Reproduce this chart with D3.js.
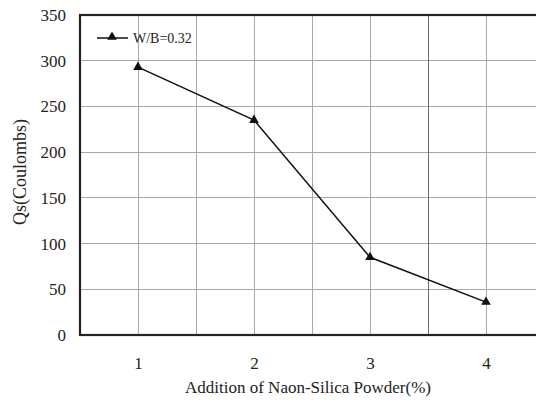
<!DOCTYPE html>
<html><head><meta charset="utf-8">
<script src="https://cdn.jsdelivr.net/npm/d3@7"></script>
<style>body{margin:0;background:#fff}svg{display:block}</style>
</head><body>
<svg id="c" width="536" height="403"></svg>
<script>
const xValues = [1, 2, 3, 4];
const qsValues = [293, 235, 85, 36];
const seriesName = "W/B=0.32";
const yTicks = [0, 50, 100, 150, 200, 250, 300, 350];
const xTicks = [1, 2, 3, 4];
const xGrid = [1, 1.5, 2, 2.5, 3, 3.5, 4];

const svg = d3.select("#c");
const L = 80, T = 15, B = 335, R = 544;
const x = d3.scaleLinear().domain([0.5, 4.5]).range([L, R]);
const y = d3.scaleLinear().domain([0, 350]).range([B, T]);
const font = "'Liberation Serif','Times New Roman',serif";

svg.append("rect").attr("width", 536).attr("height", 403).attr("fill", "#fff");

// grid
svg.append("g").selectAll("line").data(yTicks.slice(1, -1)).join("line")
  .attr("x1", L).attr("x2", R).attr("y1", d => y(d)).attr("y2", d => y(d))
  .attr("stroke", "#a8a8a8").attr("stroke-width", 1).attr("shape-rendering", "crispEdges");
svg.append("g").selectAll("line").data(xGrid).join("line")
  .attr("y1", T).attr("y2", B).attr("x1", d => x(d)).attr("x2", d => x(d))
  .attr("stroke", d => d === 3.5 ? "#6a6a6a" : "#a8a8a8").attr("stroke-width", 1).attr("shape-rendering", "crispEdges");

// border
svg.append("rect").attr("x", L).attr("y", T).attr("width", R - L).attr("height", B - T)
  .attr("fill", "none").attr("stroke", "#222").attr("stroke-width", 2.2);

// axes labels
const yAxis = d3.axisLeft(y).tickValues(yTicks).tickSize(0).tickPadding(14);
const gy = svg.append("g").attr("transform", `translate(${L},0)`).call(yAxis);
gy.select(".domain").remove();
gy.selectAll("text").attr("font-family", font).attr("font-size", 17).attr("fill", "#222");

const xAxis = d3.axisBottom(x).tickValues(xTicks).tickSize(0).tickPadding(22).tickFormat(d3.format("d"));
const gx = svg.append("g").attr("transform", `translate(0,${B})`).call(xAxis);
gx.select(".domain").remove();
gx.selectAll("text").attr("font-family", font).attr("font-size", 17).attr("fill", "#222");

// axis titles
svg.append("text").attr("x", 308).attr("y", 393).attr("text-anchor", "middle")
  .attr("font-family", font).attr("font-size", 17).attr("fill", "#222")
  .text("Addition of Naon-Silica Powder(%)");
svg.append("text").attr("transform", "translate(26,172) rotate(-90)").attr("text-anchor", "middle")
  .attr("font-family", font).attr("font-size", 18).attr("fill", "#222")
  .text("Qs(Coulombs)");

// series
const data = xValues.map((v, i) => ({x: v, y: qsValues[i]}));
svg.append("path").datum(data)
  .attr("d", d3.line().x(d => x(d.x)).y(d => y(d.y)))
  .attr("fill", "none").attr("stroke", "#111").attr("stroke-width", 1.5);
const tri = d3.symbol().type(d3.symbolTriangle).size(40);
svg.append("g").selectAll("path").data(data).join("path")
  .attr("d", tri).attr("transform", d => `translate(${x(d.x)},${y(d.y)})`).attr("fill", "#111");

// legend
svg.append("line").attr("x1", 97).attr("x2", 128).attr("y1", 38).attr("y2", 38)
  .attr("stroke", "#111").attr("stroke-width", 1.5);
svg.append("path").attr("d", tri).attr("transform", "translate(112,37)").attr("fill", "#111");
svg.append("text").attr("x", 133).attr("y", 43).attr("font-family", font).attr("font-size", 14)
  .attr("fill", "#222").text(seriesName);
</script>
</body></html>
